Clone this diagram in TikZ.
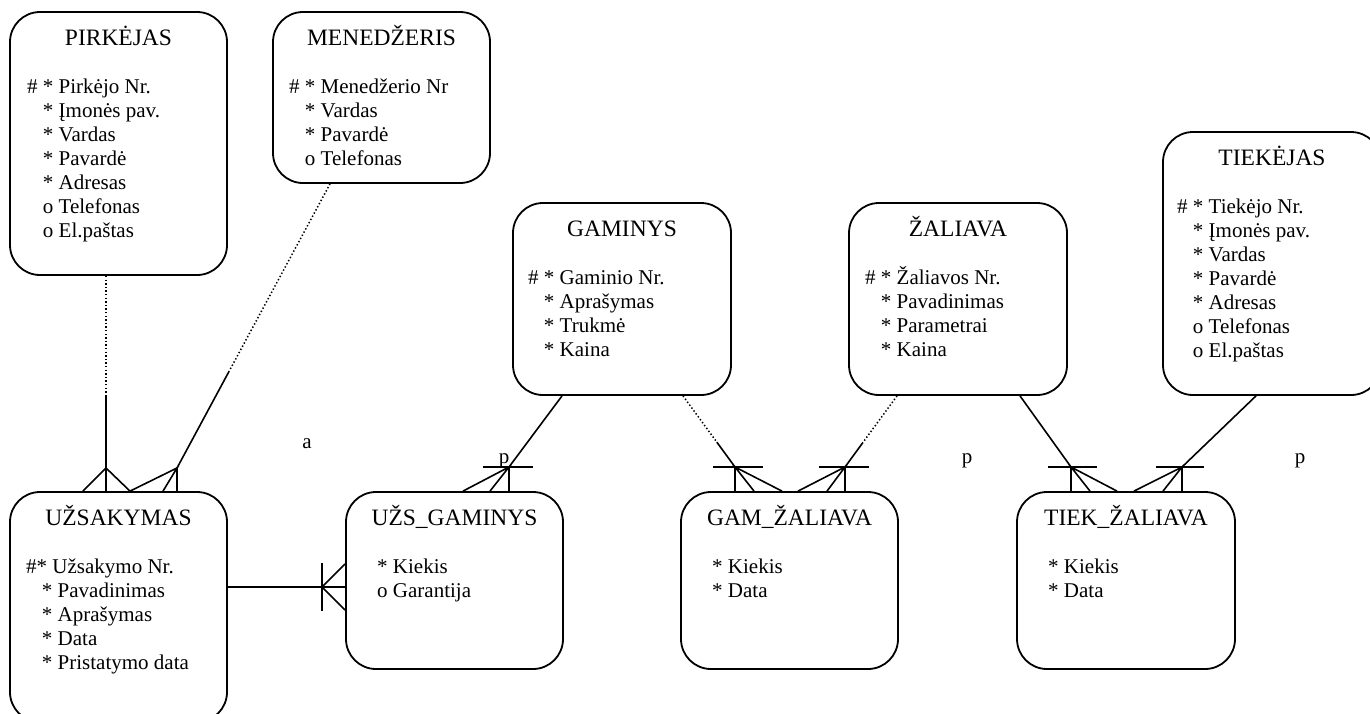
\documentclass[tikz,border=0pt]{standalone}
\usepackage{fontspec}
\setmainfont{Liberation Serif}
\usetikzlibrary{calc}
% indentation matching the width of "# "
\newcommand\ai{\hphantom{\#}\ }
\begin{document}
\begin{tikzpicture}[x=1pt,y=-1pt,
  ent/.style={draw, line width=1.8pt, rounded corners=30pt, inner sep=0pt},
  ttl/.style={anchor=base, inner sep=0pt, font=\fontsize{23.5}{28}\selectfont},
  attr/.style={anchor=base west, inner sep=0pt, font=\fontsize{21}{24}\selectfont},
  lnk/.style={line width=1.6pt},
  opt/.style={line width=1.5pt, dash pattern=on 1.4pt off 2.2pt},
  lbl/.style={anchor=base, inner sep=0pt, font=\fontsize{21}{24}\selectfont}]
\path[use as bounding box, clip] (0,0) rectangle (1370,713);

% ---------- entities ----------
\node[ent, minimum width=217pt, minimum height=263pt] (pirk) at (118.5,143.5) {};
\node[ent, minimum width=217pt, minimum height=171pt] (men)  at (381.5,97.5) {};
\node[ent, minimum width=218pt, minimum height=192pt] (gam)  at (622,299) {};
\node[ent, minimum width=218pt, minimum height=192pt] (zal)  at (958,299) {};
\node[ent, minimum width=218pt, minimum height=263pt] (tiek) at (1272,263.5) {};
\node[ent, minimum width=217pt, minimum height=230pt] (uzs)  at (118.5,607) {};
\node[ent, minimum width=217pt, minimum height=177pt] (ugam) at (454.5,580.5) {};
\node[ent, minimum width=217pt, minimum height=177pt] (gzal) at (789.5,580.5) {};
\node[ent, minimum width=218pt, minimum height=177pt] (tzal) at (1126,580.5) {};

% ---------- titles ----------
\node[ttl] (pirk-t) at (118.5,45) {PIRKĖJAS};
\node[ttl] (men-t)  at (381.5,45) {MENEDŽERIS};
\node[ttl] (gam-t)  at (622,236) {GAMINYS};
\node[ttl] (zal-t)  at (958,236) {ŽALIAVA};
\node[ttl] (tiek-t) at (1272,165) {TIEKĖJAS};
\node[ttl] (uzs-t)  at (118.5,525) {UŽSAKYMAS};
\node[ttl] (ugam-t) at (454.5,525) {UŽS\_GAMINYS};
\node[ttl] (gzal-t) at (789.5,525) {GAM\_ŽALIAVA};
\node[ttl] (tzal-t) at (1126,525) {TIEK\_ŽALIAVA};

% ---------- attributes ----------
\foreach [count=\i] \txt in {{\# * Pirkėjo Nr.},{\ai* Įmonės pav.},{\ai* Vardas},
    {\ai* Pavardė},{\ai* Adresas},{\ai o Telefonas},{\ai o El.paštas}}
  \node[attr] (pirk-\i) at (27,{93+24*(\i-1)}) {\txt};
\foreach [count=\i] \txt in {{\# * Menedžerio Nr},{\ai* Vardas},{\ai* Pavardė},{\ai o Telefonas}}
  \node[attr] (men-\i) at (289,{93+24*(\i-1)}) {\txt};
\foreach [count=\i] \txt in {{\# * Gaminio Nr.},{\ai* Aprašymas},{\ai* Trukmė},{\ai* Kaina}}
  \node[attr] (gam-\i) at (528,{284+24*(\i-1)}) {\txt};
\foreach [count=\i] \txt in {{\# * Žaliavos Nr.},{\ai* Pavadinimas},{\ai* Parametrai},{\ai* Kaina}}
  \node[attr] (zal-\i) at (865,{284+24*(\i-1)}) {\txt};
\foreach [count=\i] \txt in {{\# * Tiekėjo Nr.},{\ai* Įmonės pav.},{\ai* Vardas},
    {\ai* Pavardė},{\ai* Adresas},{\ai o Telefonas},{\ai o El.paštas}}
  \node[attr] (tiek-\i) at (1177,{213+24*(\i-1)}) {\txt};
\foreach [count=\i] \txt in {{\#* Užsakymo Nr.},{\ai* Pavadinimas},{\ai* Aprašymas},
    {\ai* Data},{\ai* Pristatymo data}}
  \node[attr] (uzs-\i) at (26,{573+24*(\i-1)}) {\txt};
\foreach [count=\i] \txt in {{* Kiekis},{o Garantija}}
  \node[attr] (ugam-\i) at (377,{573+24*(\i-1)}) {\txt};
\foreach [count=\i] \txt in {{* Kiekis},{* Data}}
  \node[attr] (gzal-\i) at (712,{573+24*(\i-1)}) {\txt};
\foreach [count=\i] \txt in {{* Kiekis},{* Data}}
  \node[attr] (tzal-\i) at (1048,{573+24*(\i-1)}) {\txt};

% ---------- loose labels ----------
\node[lbl] (lab-a)  at (307,448) {a};
\node[lbl] (lab-p1) at (504,463) {p};
\node[lbl] (lab-p2) at (967,463) {p};
\node[lbl] (lab-p3) at (1300,463) {p};

% ---------- relationships ----------
% PIRKĖJAS -- UŽSAKYMAS
\coordinate (a1) at (106,468);
\coordinate (d1) at (106,395);
\draw[opt] (pirk.south -| a1) -- (d1);
\draw[lnk] (d1) -- (a1) -- (a1 |- uzs.north);
\draw[lnk] ($(a1 |- uzs.north)+(-23,0)$) -- (a1) -- ($(a1 |- uzs.north)+(24,0)$);

% MENEDŽERIS -- UŽSAKYMAS
\coordinate (a2) at (177,468);
\coordinate (m2) at ($(men.south)+(-51.5,0)$);
\coordinate (d2) at ($(m2)!0.66!(a2)$);
\draw[opt] (m2) -- (d2);
\draw[lnk] (d2) -- (a2) -- (a2 |- uzs.north);
\draw[lnk] ($(a2 |- uzs.north)+(-47,0)$) -- (a2) -- ($(a2 |- uzs.north)+(-14,0)$);

% GAMINYS -- UŽS_GAMINYS
\coordinate (a3) at (509,467);
\draw[lnk] ($(gam.south)+(-60,0)$) -- (a3) -- (a3 |- ugam.north);
\draw[lnk] ($(a3)+(-26,0)$) -- ($(a3)+(24,0)$);
\draw[lnk] ($(a3 |- ugam.north)+(-46,0)$) -- (a3) -- ($(a3 |- ugam.north)+(-19,0)$);

% GAMINYS -- GAM_ŽALIAVA
\coordinate (a4) at (735,467);
\coordinate (s4) at ($(gam.south)+(61,0)$);
\coordinate (d4) at ($(s4)!0.65!(a4)$);
\draw[opt] (s4) -- (d4);
\draw[lnk] (d4) -- (a4) -- (a4 |- gzal.north);
\draw[lnk] ($(a4)+(-22,0)$) -- ($(a4)+(28,0)$);
\draw[lnk] ($(a4 |- gzal.north)+(19,0)$) -- (a4) -- ($(a4 |- gzal.north)+(47,0)$);

% ŽALIAVA -- GAM_ŽALIAVA
\coordinate (a5) at (845,467);
\coordinate (s5) at ($(zal.south)+(-61,0)$);
\coordinate (d5) at ($(s5)!0.67!(a5)$);
\draw[opt] (s5) -- (d5);
\draw[lnk] (d5) -- (a5) -- (a5 |- gzal.north);
\draw[lnk] ($(a5)+(-26,0)$) -- ($(a5)+(24,0)$);
\draw[lnk] ($(a5 |- gzal.north)+(-18,0)$) -- (a5) -- ($(a5 |- gzal.north)+(-47,0)$);

% ŽALIAVA -- TIEK_ŽALIAVA
\coordinate (a6) at (1071,467);
\draw[lnk] ($(zal.south)+(62,0)$) -- (a6) -- (a6 |- tzal.north);
\draw[lnk] ($(a6)+(-23,0)$) -- ($(a6)+(26,0)$);
\draw[lnk] ($(a6 |- tzal.north)+(19,0)$) -- (a6) -- ($(a6 |- tzal.north)+(46,0)$);

% TIEKĖJAS -- TIEK_ŽALIAVA
\coordinate (a7) at (1182,467);
\draw[lnk] ($(tiek.south)+(-16,0)$) -- (a7) -- (a7 |- tzal.north);
\draw[lnk] ($(a7)+(-26,0)$) -- ($(a7)+(22,0)$);
\draw[lnk] ($(a7 |- tzal.north)+(-19,0)$) -- (a7) -- ($(a7 |- tzal.north)+(-48,0)$);

% UŽSAKYMAS -- UŽS_GAMINYS
\coordinate (a8) at (322,587);
\draw[lnk] (uzs.east |- a8) -- (ugam.west |- a8);
\draw[lnk] ($(a8)+(0,-24)$) -- ($(a8)+(0,24)$);
\draw[lnk] ($(ugam.west |- a8)+(0,-23)$) -- (a8) -- ($(ugam.west |- a8)+(0,23)$);
\end{tikzpicture}
\end{document}
